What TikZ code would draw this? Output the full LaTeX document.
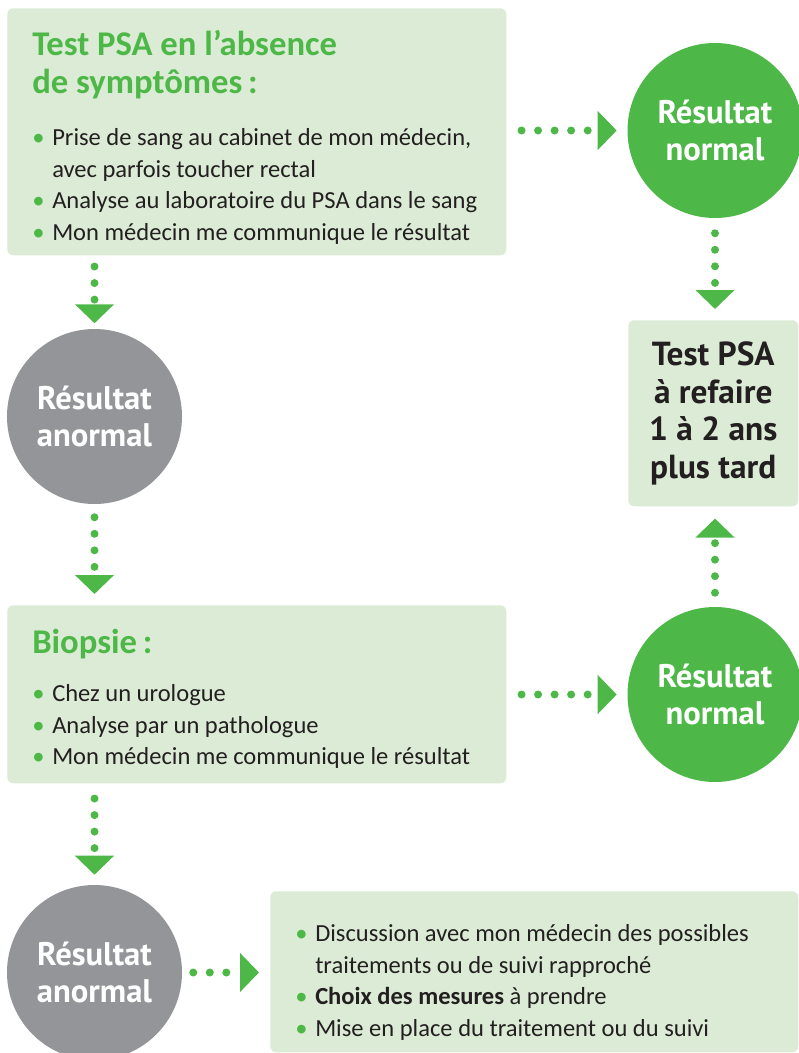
\documentclass[tikz,border=0pt]{standalone}
\usepackage{fontspec}
\setmainfont{Carlito}
\newfontfamily\dinfont{PT Sans}
\usetikzlibrary{arrows.meta}

\definecolor{vertvif}{HTML}{4DB848}
\definecolor{vertpale}{HTML}{DBEBD5}
\definecolor{gris}{HTML}{939598}
\definecolor{encre}{HTML}{231F20}

\newcommand{\puce}{\par\noindent\spaceskip=0pt\xspaceskip=0pt\hangindent=15pt\hangafter=1\strut\makebox[15pt][l]{\textcolor{vertvif}{\textbullet}}}

\tikzset{
  bloc/.style={fill=vertpale, rounded corners=4.5pt, anchor=north west, inner sep=0pt},
  titre/.style={anchor=north west, inner sep=0pt, align=left, text=vertvif, font=\fontsize{26}{28.5}\selectfont\bfseries},
  liste/.style={anchor=north west, inner sep=0pt, align=left, text=encre, text width=#1, font=\fontsize{18.4}{23.6}\selectfont},
  rond/.style={circle, fill=#1, minimum size=131.25pt, inner sep=0pt, align=center, text=white, font=\dinfont\bfseries\fontsize{24.5}{27.75}\selectfont},
  fleche/.style={draw=vertvif, line width=6pt, line cap=round, dash pattern=on 0pt off 12.4pt, -{Triangle[length=14.25pt, width=28.5pt]}}
}

\begin{document}
\begin{tikzpicture}[x=0.75pt, y=-0.75pt]
\clip (0,0) rectangle (799,1053);
% Define the boxes
\node[bloc, minimum width=374.25pt, minimum height=185.25pt] (depistage) at (7,8) {};
\node[bloc, minimum width=374.25pt, minimum height=133.5pt] (biopsie) at (7,605) {};
\node[bloc, minimum width=396pt, minimum height=120.75pt] (suite) at (270,891) {};
\node[bloc, minimum width=127.5pt, minimum height=139.5pt, align=center, text=encre,
      font=\dinfont\bfseries\fontsize{25}{28.1}\selectfont] (retest) at (628,320)
      {Test PSA\\à refaire\\1 à 2 ans\\plus tard};
% Define the texts of the boxes
\node[titre] (titre1) at (32,28.4) {\strut Test PSA en l’absence\\de symptômes\,:};
\node[liste=352.5pt] (liste1) at (32,114) {\puce Prise de sang au cabinet de mon médecin,\newline avec parfois toucher rectal
  \puce Analyse au laboratoire du PSA dans le sang
  \puce Mon médecin me communique le résultat};
\node[titre] (titre2) at (32,626.4) {\strut Biopsie\,:};
\node[liste=352.5pt] (liste2) at (32,670) {\puce Chez un urologue
  \puce Analyse par un pathologue
  \puce Mon médecin me communique le résultat};
\node[liste=375pt] (liste3) at (295,910) {\puce Discussion avec mon médecin des possibles\newline traitements ou de suivi rapproché
  \puce \textbf{Choix des mesures} à prendre
  \puce Mise en place du traitement ou du suivi};
% Define the results
\node[rond=vertvif] (normal1) at (715,130.5) {Résultat\\normal};
\node[rond=vertvif] (normal2) at (715,694.5) {Résultat\\normal};
\node[rond=gris] (anormal1) at (94.5,416.5) {Résultat\\anormal};
\node[rond=gris] (anormal2) at (94.5,972.5) {Résultat\\anormal};
% Add the dotted arrows
\draw[fleche, shorten <=8.25pt, shorten >=4.1pt] (anormal1.north |- depistage.south) -- (anormal1.north);
\draw[fleche, shorten <=9.75pt, shorten >=8.25pt] (anormal1.south) -- (anormal1.south |- biopsie.north);
\draw[fleche, shorten <=11.25pt, shorten >=7.5pt] (anormal2.north |- biopsie.south) -- (anormal2.north);
\draw[fleche, shorten <=11.25pt, shorten >=7.9pt] (normal1.west -| depistage.east) -- (normal1.west);
\draw[fleche, shorten <=11.25pt, shorten >=7.9pt] (normal2.west -| biopsie.east) -- (normal2.west);
\draw[fleche, shorten <=11.25pt, shorten >=8.25pt] (normal1.south) -- (normal1.south |- retest.north);
\draw[fleche, shorten <=10.5pt, shorten >=9pt] (normal2.north) -- (normal2.north |- retest.south);
\draw[fleche, shorten <=8.25pt, shorten >=8.25pt] (anormal2.east) -- (anormal2.east -| suite.west);
\end{tikzpicture}
\end{document}
